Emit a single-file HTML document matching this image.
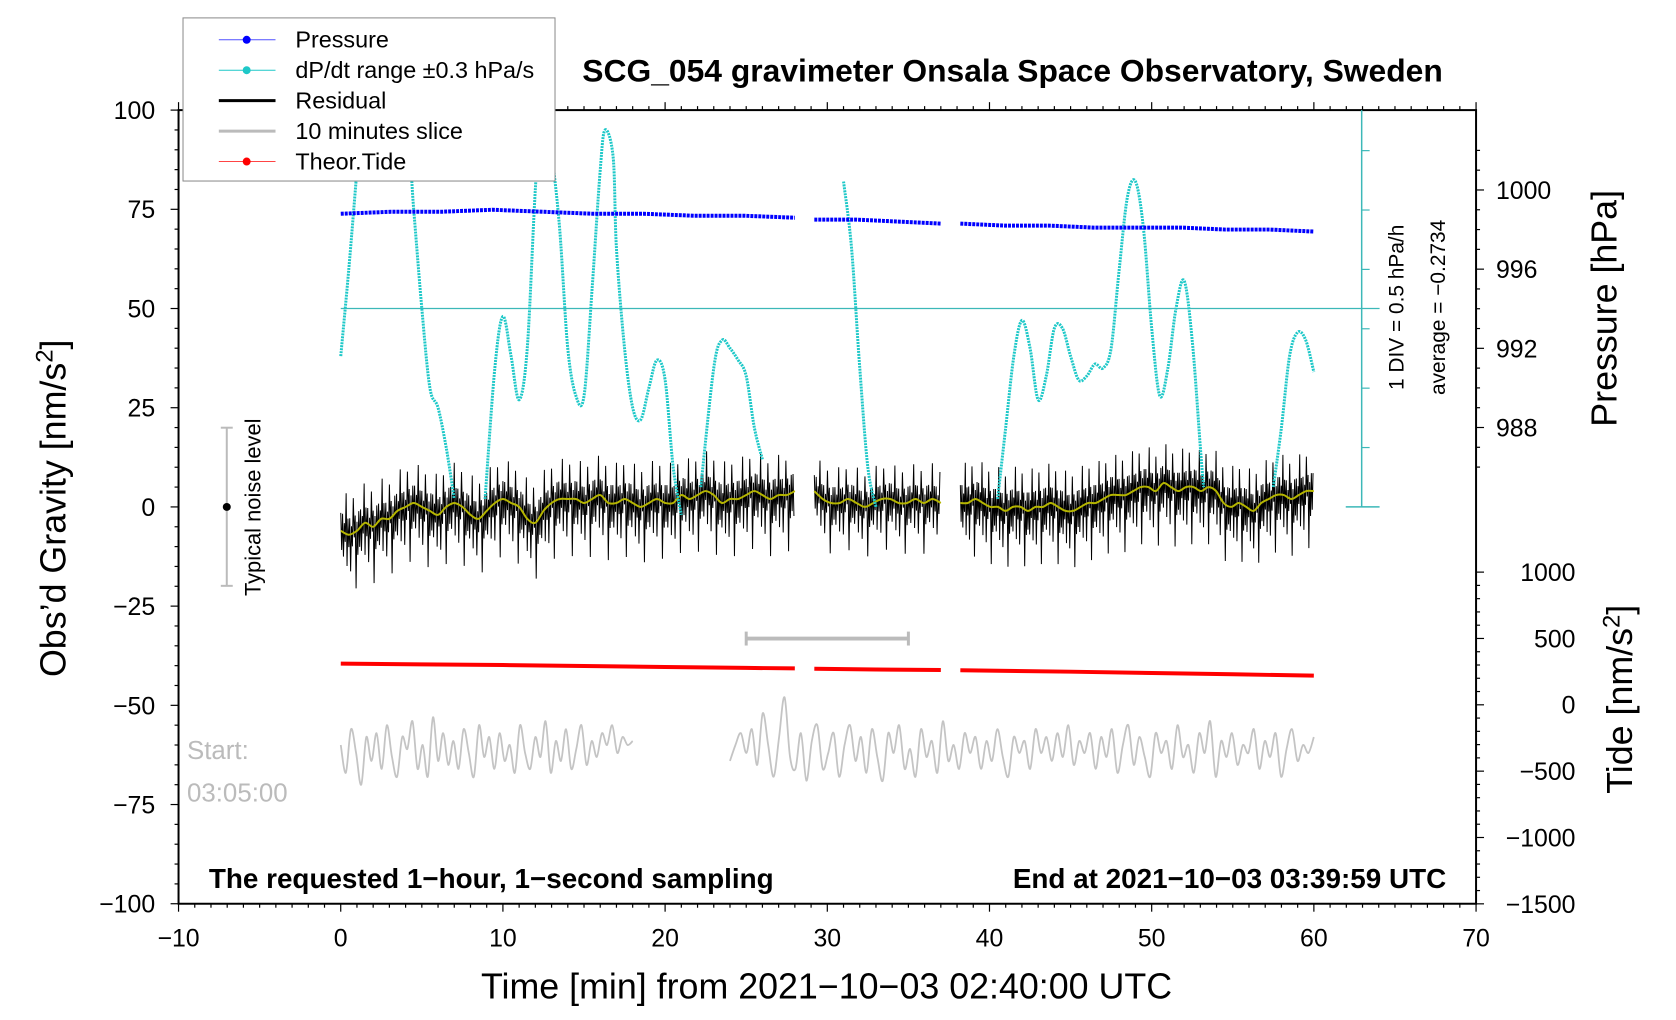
<!DOCTYPE html>
<html><head><meta charset="utf-8"><style>
html,body{margin:0;padding:0;background:#fff}
svg{display:block;font-family:"Liberation Sans",sans-serif}
</style></head><body>
<svg id="c" width="1676" height="1020" viewBox="0 0 1676 1020">
<defs><clipPath id="pc"><rect x="179.5" y="110.7" width="1304.5" height="797.9"/></clipPath></defs>
<g transform="scale(0.99465)">
<g id="axes"></g>
<g id="series" clip-path="url(#pc)"></g>
<g id="overlay"></g>
</g>
</svg>
<script>
// ---- data ----
const xTicks=[-10,0,10,20,30,40,50,60,70];
const yTicks=[100,75,50,25,0,-25,-50,-75,-100];
const pTicks=[1000,996,992,988];
const tideTicks=[1000,500,0,-500,-1000,-1500];
const segStart=[0,29.2,38.2];
const segEnd=[28,37,60];
const resSmooth1=[-6,-7,-6,-4,-5,-3,-3,-1,0,1,0,-1,-2,0,1,0,-2,-3,-1,1,2,1,0,-3,-4,-1,1,2,2,2,1,2,3,1,1,2,1,0,1,2,1,1,3,2,3,4,3,1,2,2,3,4,3,2,3,3,4];
const resSmooth2=[4,2,1,1,2,1,0,1,2,2,1,1,2,1,2,1];
const resSmooth3=[1,1,2,1,0,0,-1,0,0,-1,0,0,1,0,-1,-1,0,1,1,2,3,3,3,4,5,5,4,6,5,4,5,5,4,5,4,1,0,1,0,-1,1,2,3,3,2,3,4,4];
const resAmp=[9,8,9];
const pressure1=[998.8,998.9,998.9,999.0,998.9,998.8,998.8,998.7,998.7,998.6];
const pressure2=[998.5,998.5,998.4,998.3];
const pressure3=[998.3,998.2,998.2,998.1,998.1,998.1,998.0,998.0,997.9];
const dpdtX=[0,0.5,1,1.5,2,3.8,4.5,5,5.5,6,6.5,7,null,8.9,9.5,10,10.5,11,11.5,12,12.5,13,13.5,14,14.5,15,15.5,16,16.3,16.8,17,17.5,18,18.5,19,19.5,20,20.5,21,null,22.2,23,23.5,24,24.5,25,25.5,26,null,31,31.5,32,32.5,33,null,40.5,41,41.5,42,42.5,43,43.5,44,44.5,45,45.5,46,46.5,47,47.5,48,48.5,49,49.5,50,50.5,51,51.5,52,52.5,53,53.2,null,57.5,58,58.5,59,59.5,60];
const dpdtY=[38,60,85,110,130,110,75,50,30,25,15,2,null,2,35,48,38,27,40,80,110,90,70,40,28,28,55,85,95,88,65,40,25,22,30,37,32,10,-2,null,5,35,42,40,37,33,20,12,null,82,65,35,10,0,null,2,20,38,47,40,27,33,45,45,38,32,33,36,35,40,60,78,82,70,45,28,35,50,57,42,15,5,null,5,20,38,44,42,34];
const tideX=[0,5,10,15,20,25,28,null,29.2,33,37,null,38.2,45,50,55,60];
const tideY=[310,305,300,292,285,278,274,null,272,266,262,null,260,250,240,230,220];
const slice1=[-60,-67,-56,-62,-70,-58,-64,-57,-66,-55,-63,-68,-58,-61,-54,-66,-60,-68,-53,-64,-57,-65,-59,-66,-56,-62,-68,-55,-63,-58,-66,-57,-64,-60,-67,-55,-62,-66,-58,-63,-54,-67,-59,-64,-56,-66,-61,-55,-65,-59,-63,-57,-60,-55,-62,-58,-60,-59];
const slice2=[-64,-60,-57,-62,-56,-65,-52,-60,-68,-58,-48,-63,-66,-57,-69,-59,-55,-66,-62,-57,-68,-60,-55,-64,-58,-67,-56,-63,-69,-57,-62,-55,-66,-61,-68,-56,-63,-59,-67,-54,-64,-60,-66,-57,-62,-58,-66,-59,-64,-56,-63,-68,-58,-62,-59,-66,-56,-62,-58,-64,-57,-63,-55,-65,-59,-62,-57,-66,-58,-63,-56,-67,-60,-55,-65,-58,-63,-68,-57,-62,-59,-66,-55,-63,-60,-67,-57,-62,-54,-68,-59,-63,-57,-65,-60,-62,-56,-66,-59,-63,-57,-68,-61,-56,-64,-60,-62,-58];
const sliceRange=[[0,18],[24,60]];

// ---- scales ----
const X0=179.5,X1=1484,Y0=110.7,Y1=908.6;
const sx=m=>X0+(m+10)/80*(X1-X0);
const sy=g=>Y0+(100-g)/200*(Y1-Y0);
const sp=p=>191+(1000-p)*19.9;
const st=t=>708.6-t/500*66.7;
const NS="http://www.w3.org/2000/svg";
function mk(parent,tag,attrs,name){const e=document.createElementNS(NS,tag);for(const k in attrs)e.setAttribute(k,attrs[k]);


document.getElementById(parent).appendChild(e);return e;}
function txt(parent,x,y,s,attrs,name){const e=mk(parent,'text',Object.assign({x:x,y:y},attrs),name);e.textContent=s;return e;}
function pathFrom(xs,ys,fx,fy){let d='',pen=false;for(let i=0;i<xs.length;i++){if(xs[i]===null||ys[i]===null){pen=false;continue;}d+=(pen?'L':'M')+fx(xs[i]).toFixed(1)+' '+fy(ys[i]).toFixed(1);pen=true;}return d;}
function smoothFrom(xs,ys,fx,fy){const runs=[];let cur=[];for(let i=0;i<xs.length;i++){if(xs[i]===null){if(cur.length)runs.push(cur);cur=[];continue;}cur.push([fx(xs[i]),fy(ys[i])]);}if(cur.length)runs.push(cur);
let d='';runs.forEach(p=>{d+='M'+p[0][0].toFixed(1)+' '+p[0][1].toFixed(1);for(let i=0;i<p.length-1;i++){const p0=p[Math.max(0,i-1)],p1=p[i],p2=p[i+1],p3=p[Math.min(p.length-1,i+2)];
d+='C'+(p1[0]+(p2[0]-p0[0])/6).toFixed(1)+' '+(p1[1]+(p2[1]-p0[1])/6).toFixed(1)+' '+(p2[0]-(p3[0]-p1[0])/6).toFixed(1)+' '+(p2[1]-(p3[1]-p1[1])/6).toFixed(1)+' '+p2[0].toFixed(1)+' '+p2[1].toFixed(1);}});return d;}

// frame
mk('axes','rect',{x:X0,y:Y0,width:X1-X0,height:Y1-Y0,fill:'none',stroke:'#000','stroke-width':2},'plot-frame');
for(let m=-10;m<=70;m++){const x=sx(m);const major=m%10===0;
mk('axes','line',{x1:x,x2:x,y1:Y1,y2:Y1+(major?8:4),stroke:'#000','stroke-width':1.2},'x-tick');
mk('axes','line',{x1:x,x2:x,y1:Y0,y2:Y0-(major?8:4),stroke:'#000','stroke-width':1.2},'x-top-tick');}
xTicks.forEach(v=>txt('axes',sx(v),Y1+43,String(v).replace('-','\u2212'),{'font-size':25,'text-anchor':'middle'},'x-tick-label'));
for(let g=-100;g<=100;g+=5){const y=sy(g);const major=g%25===0;
mk('axes','line',{x1:X0,x2:X0-(major?8:4),y1:y,y2:y,stroke:'#000','stroke-width':1.2},'y-tick');}
yTicks.forEach(v=>txt('axes',156,sy(v)+9,String(v).replace('-','\u2212'),{'font-size':25,'text-anchor':'end'},'y-tick-label'));
for(let p=986;p<=1002;p++){const y=sp(p);if(y<Y0||y>508)continue;const major=p%4===0;
mk('axes','line',{x1:X1,x2:X1+(major?8:4),y1:y,y2:y,stroke:'#000','stroke-width':1.2},'pressure-tick');}
pTicks.forEach(v=>txt('axes',1504,sp(v)+9,String(v),{'font-size':25},'pressure-tick-label'));
for(let t=-1500;t<=1000;t+=100){const y=st(t);const major=t%500===0;
mk('axes','line',{x1:X1,x2:X1+(major?8:4),y1:y,y2:y,stroke:'#000','stroke-width':1.2},'tide-tick');}
tideTicks.forEach(v=>txt('axes',1584,st(v)+9,String(v).replace('-','\u2212'),{'font-size':25,'text-anchor':'end'},'tide-tick-label'));
txt('axes',831,1004,'Time [min] from 2021\u221210\u221203 02:40:00 UTC',{'font-size':36,'text-anchor':'middle'},'x-axis-title');
const yl=txt('axes',0,0,'',{'font-size':36,'text-anchor':'middle',transform:'translate(66,511) rotate(-90)'},'y-axis-title');
yl.innerHTML='Obs\u2019d Gravity [nm/s<tspan dy="-13" font-size="24">2</tspan><tspan dy="13">]</tspan>';
txt('axes',0,0,'Pressure [hPa]',{'font-size':36,'text-anchor':'middle',transform:'translate(1625,310) rotate(-90)'},'pressure-axis-title');
const tl=txt('axes',0,0,'',{'font-size':36,'text-anchor':'middle',transform:'translate(1641,703) rotate(-90)'},'tide-axis-title');
tl.innerHTML='Tide [nm/s<tspan dy="-13" font-size="24">2</tspan><tspan dy="13">]</tspan>';
txt('axes',1018,82,'SCG_054 gravimeter Onsala Space Observatory, Sweden',{'font-size':32,'font-weight':'bold','text-anchor':'middle'},'chart-title');
txt('axes',210,893,'The requested 1\u2212hour, 1\u2212second sampling',{'font-size':28,'font-weight':'bold'},'sampling-note');
txt('axes',1454,893,'End at 2021\u221210\u221203 03:39:59 UTC',{'font-size':28,'font-weight':'bold','text-anchor':'end'},'end-time-note');
txt('axes',188,763,'Start:',{'font-size':26,fill:'#bbb'},'slice-start-label');
txt('axes',188,806,'03:05:00',{'font-size':26,fill:'#bbb'},'slice-start-time');
mk('axes','line',{x1:1369,x2:1369,y1:Y0,y2:sy(0),stroke:'#3cb8b8','stroke-width':1.5},'dpdt-axis');
mk('axes','line',{x1:1353,x2:1387,y1:sy(0),y2:sy(0),stroke:'#3cb8b8','stroke-width':1.5},'dpdt-axis-base');
for(let y=sy(0);y>=Y0;y-=59.7)mk('axes','line',{x1:1369,x2:1377,y1:y,y2:y,stroke:'#3cb8b8','stroke-width':1.2},'dpdt-tick');
mk('axes','line',{x1:sx(0),x2:1387,y1:sy(50),y2:sy(50),stroke:'#3cb8b8','stroke-width':1.3},'dpdt-average-line');
txt('axes',0,0,'1 DIV = 0.5 hPa/h',{'font-size':21,'text-anchor':'middle',transform:'translate(1411,309) rotate(-90)'},'dpdt-div-label');
txt('axes',0,0,'average = \u22120.2734',{'font-size':21,'text-anchor':'middle',transform:'translate(1453,309) rotate(-90)'},'dpdt-average-label');
mk('axes','line',{x1:228,x2:228,y1:430,y2:589,stroke:'#bbb','stroke-width':2},'noise-level-bar');
mk('axes','line',{x1:222,x2:234,y1:430,y2:430,stroke:'#bbb','stroke-width':2},'noise-bar-cap-top');
mk('axes','line',{x1:222,x2:234,y1:589,y2:589,stroke:'#bbb','stroke-width':2},'noise-bar-cap-bottom');
mk('axes','circle',{cx:228,cy:sy(0),r:4,fill:'#000'},'noise-level-dot');
txt('axes',0,0,'Typical noise level',{'font-size':22,'text-anchor':'middle',transform:'translate(262,510) rotate(-90)'},'noise-level-label');
mk('axes','line',{x1:sx(25),x2:sx(35),y1:642,y2:642,stroke:'#bbb','stroke-width':4},'ten-minute-bar');
mk('axes','line',{x1:sx(25),x2:sx(25),y1:635,y2:649,stroke:'#bbb','stroke-width':3},'ten-minute-bar-cap-left');
mk('axes','line',{x1:sx(35),x2:sx(35),y1:635,y2:649,stroke:'#bbb','stroke-width':3},'ten-minute-bar-cap-right');

// ---- series ----
[slice1,slice2].forEach((arr,k)=>{const a=sliceRange[k][0],b=sliceRange[k][1];const xs=arr.map((v,i)=>a+(b-a)*i/(arr.length-1));
mk('series','path',{d:smoothFrom(xs,arr,sx,sy),fill:'none',stroke:'#c4c4c4','stroke-width':1.8},'ten-minute-slice-line');});
mk('series','path',{d:pathFrom(tideX,tideY,sx,st),fill:'none',stroke:'#f00','stroke-width':4},'tide-line');
const pattern=[1,-0.7,0.5,-1.1,0.3,-0.5,1.5,-0.9,0.7,-0.4,0.9,-1.4,0.2,-0.6,1.1,-0.3,0.6,-1.6,0.4,-0.8];
[resSmooth1,resSmooth2,resSmooth3].forEach((arr,k)=>{const a=segStart[k],b=segEnd[k];const n=arr.length;let d='';let c=0;
for(let i=0;i<n-1;i++){for(let j=0;j<9;j++){const f=j/9;const m=a+(b-a)*(i+f)/(n-1);const base=arr[i]*(1-f)+arr[i+1]*f;const v=base+resAmp[k]*pattern[c%pattern.length]*(0.5+0.5*((c*7)%5)/4);c++;
d+=(d?'L':'M')+sx(m).toFixed(1)+' '+sy(v).toFixed(1);}}
mk('series','path',{d:d,fill:'none',stroke:'#000','stroke-width':1},'residual-line');
const xs=arr.map((v,i)=>a+(b-a)*i/(n-1));
mk('series','path',{d:smoothFrom(xs,arr,sx,sy),fill:'none',stroke:'#b5b500','stroke-width':2},'residual-smoothed-line');});
mk('series','path',{d:smoothFrom(dpdtX,dpdtY,sx,sy),fill:'none',stroke:'#1ec8c8','stroke-width':3,'stroke-dasharray':'2 1'},'dpdt-line');
[pressure1,pressure2,pressure3].forEach((arr,k)=>{const a=segStart[k],b=segEnd[k];const xs=arr.map((v,i)=>a+(b-a)*i/(arr.length-1));
mk('series','path',{d:pathFrom(xs,arr,sx,sp),fill:'none',stroke:'#0000ff','stroke-width':4,'stroke-dasharray':'3 1'},'pressure-line');});

// ---- legend ----
mk('overlay','rect',{x:184,y:18,width:374,height:164,fill:'#fff',stroke:'#888','stroke-width':1},'legend-box');
const legNames=['Pressure','dP/dt range \u00b10.3 hPa/s','Residual','10 minutes slice','Theor.Tide'];
const legCols=['#5050ff','#1ec8c8','#000','#bbb','#f44'];
const legDot=[true,true,false,false,true];
legNames.forEach((n,i)=>{const y=40+i*30.6;
mk('overlay','line',{x1:220,x2:277,y1:y,y2:y,stroke:legCols[i],'stroke-width':(i===2||i===3)?3:1},'legend-line');
if(legDot[i])mk('overlay','circle',{cx:248,cy:y,r:4,fill:i===0?'#00f':(i===1?'#1ec8c8':'#f00')},'legend-marker');
txt('overlay',297,y+8,n,{'font-size':23.5},'legend-entry');});
</script>
</body></html>
